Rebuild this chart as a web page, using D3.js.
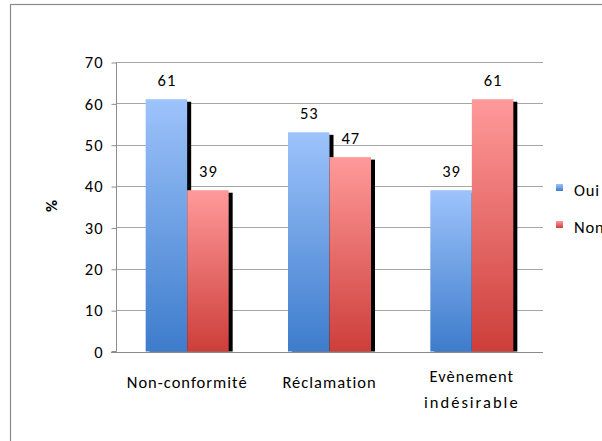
<!DOCTYPE html>
<html>
<head>
<meta charset="utf-8">
<script src="https://cdn.jsdelivr.net/npm/d3@7"></script>
<style>
  html, body { margin: 0; padding: 0; background: #fff; }
  svg { display: block; }
  text { font-family: Carlito, Lato, "Open Sans", sans-serif; fill: #000; }
</style>
</head>
<body>
<svg id="chart" width="602" height="441"></svg>
<script>
// Share of "Oui" / "Non" answers per event type (%)
const categories = ["Non-conformité", "Réclamation", "Evènement\nindésirable"];
const seriesNames = ["Oui", "Non"];
const ouiValues = [61, 53, 39];
const nonValues = [39, 47, 61];
const yTicks = [0, 10, 20, 30, 40, 50, 60, 70];
const yTitle = "%";

const svg = d3.select("#chart");
const FS = 16.5;

// outer frame (right/bottom edges run off the page)
svg.append("rect")
  .attr("x", 10.5).attr("y", 4.5)
  .attr("width", 640).attr("height", 480)
  .attr("fill", "#fff").attr("stroke", "#8a8a8a").attr("stroke-width", 1.2);

const plot = { left: 116, right: 543, top: 62, bottom: 351.5 };

const x = d3.scaleBand().domain(categories).range([plot.left, plot.right]).paddingInner(0).paddingOuter(0);
const y = d3.scaleLinear().domain([0, 70]).range([plot.bottom, plot.top]);

// gradients
const defs = svg.append("defs");
const grads = [
  { id: "gOui", top: "#9dc3fb", bottom: "#3d7ccc" },
  { id: "gNon", top: "#ff9a9a", bottom: "#cd3e3a" }
];
grads.forEach(g => {
  const lg = defs.append("linearGradient").attr("id", g.id)
    .attr("x1", 0).attr("y1", 0).attr("x2", 0).attr("y2", 1);
  lg.append("stop").attr("offset", "0%").attr("stop-color", g.top);
  lg.append("stop").attr("offset", "100%").attr("stop-color", g.bottom);
});

// gridlines
svg.append("g").selectAll("line").data(yTicks.filter(d => d > 0)).join("line")
  .attr("x1", plot.left).attr("x2", plot.right)
  .attr("y1", d => Math.round(y(d)) + 0.5).attr("y2", d => Math.round(y(d)) + 0.5)
  .attr("stroke", "#a6a6a6").attr("stroke-width", 1);

// y axis
const yAxis = d3.axisLeft(y).tickValues(yTicks).tickSize(5).tickPadding(8).tickFormat(d3.format("d"));
const gy = svg.append("g").attr("transform", `translate(${plot.left + 0.5},0.5)`).call(yAxis);
gy.attr("font-size", null).attr("font-family", null);
gy.select(".domain").attr("stroke", "#8c8c8c").attr("d", `M-5,${plot.bottom - 0.5}H0V${plot.top}`);
gy.selectAll(".tick line").attr("stroke", "#8c8c8c");
gy.selectAll(".tick text").attr("font-size", FS).attr("letter-spacing", 1).attr("fill", "#000");

// x axis line
svg.append("line")
  .attr("x1", plot.left - 5).attr("x2", plot.right)
  .attr("y1", Math.round(plot.bottom) + 0.5).attr("y2", Math.round(plot.bottom) + 0.5)
  .attr("stroke", "#8c8c8c");

// bars
const barW = 41.5;
const sub = d3.scaleBand().domain(seriesNames).range([0, barW * 2]);
const offset = (x.bandwidth() - barW * 2) / 2;
const rows = categories.map((c, i) => ({ cat: c, vals: [
  { s: "Oui", v: ouiValues[i] },
  { s: "Non", v: nonValues[i] }
]}));

const groups = svg.append("g").selectAll("g").data(rows).join("g")
  .attr("transform", d => `translate(${x(d.cat) + offset},0)`);

// black drop shadows behind each bar, then the bars and their value labels
groups.each(function(d) {
  const g = d3.select(this);
  d.vals.forEach(p => {
    g.append("rect")
      .attr("x", sub(p.s) + 4).attr("y", y(p.v) + 2.5)
      .attr("width", sub.bandwidth()).attr("height", plot.bottom - y(p.v) - 2.5)
      .attr("fill", "#000");
  });
  d.vals.forEach(p => {
    g.append("rect")
      .attr("x", sub(p.s)).attr("y", y(p.v))
      .attr("width", sub.bandwidth()).attr("height", plot.bottom - y(p.v))
      .attr("fill", p.s === "Oui" ? "url(#gOui)" : "url(#gNon)");
  });
  d.vals.forEach(p => {
    g.append("text")
      .attr("x", sub(p.s) + sub.bandwidth() / 2 + 0.5)
      .attr("y", y(p.v) - 13)
      .attr("text-anchor", "middle")
      .attr("font-size", FS)
      .attr("letter-spacing", 1)
      .text(p.v);
  });
});

// category labels
svg.append("g").selectAll("text").data(categories).join("text")
  .attr("x", d => x(d) + x.bandwidth() / 2)
  .attr("y", d => d.includes("\n") ? 382 : 388)
  .attr("text-anchor", "middle")
  .attr("font-size", FS)
  .each(function(d) {
    const lines = d.split("\n");
    const t = d3.select(this);
    lines.forEach((ln, i) => {
      t.append("tspan")
        .attr("x", x(d) + x.bandwidth() / 2)
        .attr("dy", i === 0 ? 0 : 26)
        .attr("letter-spacing", i === 1 ? 2 : 1)
        .text(ln);
    });
  });

// y title
svg.append("text")
  .attr("transform", "translate(57,206) rotate(-90)")
  .attr("text-anchor", "middle")
  .attr("font-size", FS)
  .attr("font-weight", "bold")
  .text(yTitle);

// legend
const legend = svg.append("g").selectAll("g").data(seriesNames).join("g")
  .attr("transform", (d, i) => `translate(556,${184 + i * 37})`);
legend.append("rect")
  .attr("width", 7).attr("height", 7)
  .attr("fill", d => d === "Oui" ? "url(#gOui)" : "url(#gNon)");
legend.append("text")
  .attr("x", 18).attr("y", 12)
  .attr("font-size", FS)
  .attr("letter-spacing", 0.8)
  .text(d => d);
</script>
</body>
</html>
